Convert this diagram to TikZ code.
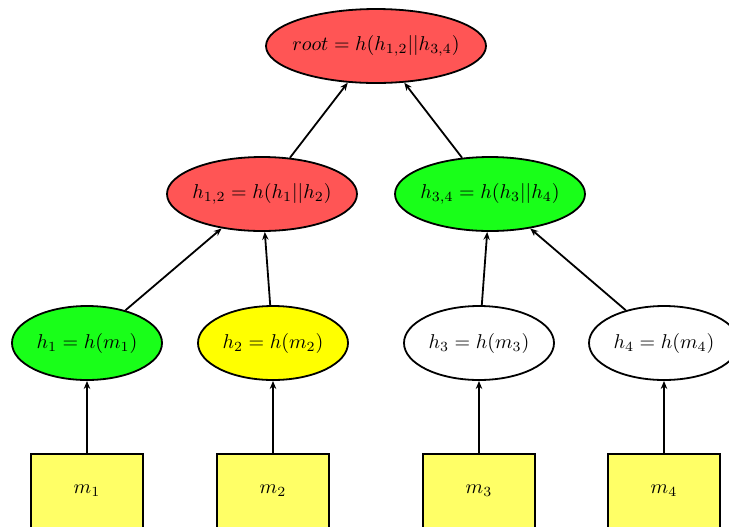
\documentclass[tikz,border=0pt]{standalone}
\usetikzlibrary{shapes.geometric,arrows.meta}
\definecolor{hashred}{RGB}{255,85,85}
\definecolor{hashgreen}{RGB}{25,255,25}
\definecolor{hashyellow}{RGB}{255,255,0}
\definecolor{msgyellow}{RGB}{255,255,102}
\begin{document}
\begin{tikzpicture}[x=0.5pt,y=-0.5pt,
  hashnode/.style={ellipse,draw=black,line width=0.9pt,inner xsep=-4pt,
    inner ysep=0pt,minimum height=37pt},
  topnode/.style={hashnode,minimum width=110pt},
  midnode/.style={hashnode,minimum width=95pt},
  leafnode/.style={hashnode,minimum width=75pt},
  msgbox/.style={rectangle,draw=black,line width=0.9pt,fill=msgyellow,
    minimum width=56pt,minimum height=37pt,inner sep=0pt},
  edge/.style={line width=0.9pt,-{Stealth[length=4pt,width=3.2pt]}}]
  \clip (0,0) rectangle (729,526);
  \useasboundingbox (0,0) rectangle (729,526);

  % Merkle tree nodes
  \node[topnode,fill=hashred] (root) at (376,46) {$root = h(h_{1,2}||h_{3,4})$};
  \node[midnode,fill=hashred] (h12) at (262,194) {$h_{1,2} = h(h_1||h_2)$};
  \node[midnode,fill=hashgreen] (h34) at (490,194) {$h_{3,4} = h(h_3||h_4)$};
  \node[leafnode,fill=hashgreen] (h1) at (87,343) {$h_1 = h(m_1)$};
  \node[leafnode,fill=hashyellow] (h2) at (273,343) {$h_2 = h(m_2)$};
  \node[leafnode,fill=white] (h3) at (479,343) {$h_3 = h(m_3)$};
  \node[leafnode,fill=white] (h4) at (664,343) {$h_4 = h(m_4)$};

  % data blocks
  \node[msgbox] (m1) at (87,491) {$m_1$};
  \node[msgbox] (m2) at (273,491) {$m_2$};
  \node[msgbox] (m3) at (479,491) {$m_3$};
  \node[msgbox] (m4) at (664,491) {$m_4$};

  % hashing edges
  \draw[edge] (m1) -- (h1);
  \draw[edge] (m2) -- (h2);
  \draw[edge] (m3) -- (h3);
  \draw[edge] (m4) -- (h4);
  \draw[edge] (h1) -- (h12);
  \draw[edge] (h2) -- (h12);
  \draw[edge] (h3) -- (h34);
  \draw[edge] (h4) -- (h34);
  \draw[edge] (h12) -- (root);
  \draw[edge] (h34) -- (root);
\end{tikzpicture}
\end{document}
